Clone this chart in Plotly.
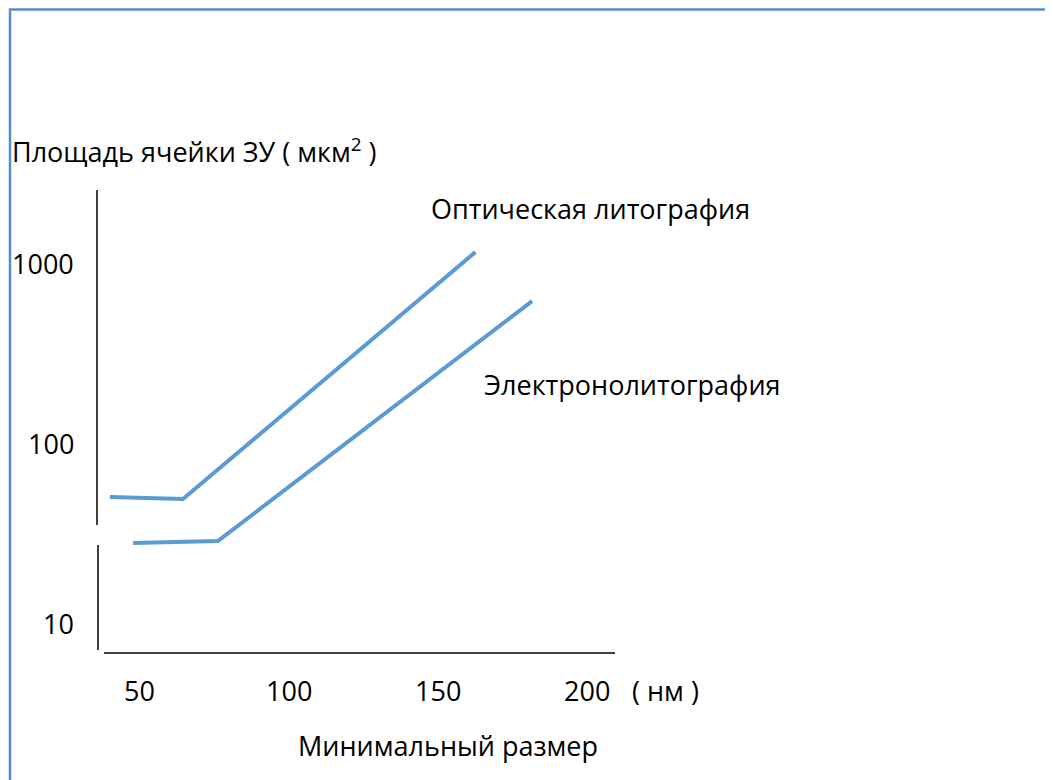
import plotly.graph_objects as go
import math

# Browser page has an 8px body margin; the figure is sized to fill the rest
OFF = 8
W, H = 1053 - OFF, 780 - OFF

# Data
optical_x = [40.0, 64.5, 162.5]
optical_y = [50.5, 49.3, 1160]
electron_x = [47.8, 76.2, 181.5]
electron_y = [28.1, 28.8, 620]

x_ticks = [50, 100, 150, 200]
y_ticks = [10, 100, 1000]

line_color = "rgb(91,155,213)"
font_family = "'Open Sans', Lato, sans-serif"
fs = 27

fig = go.Figure()
fig.add_trace(go.Scatter(x=optical_x, y=optical_y, mode="lines",
                         line=dict(color=line_color, width=4), name="Оптическая литография"))
fig.add_trace(go.Scatter(x=electron_x, y=electron_y, mode="lines",
                         line=dict(color=line_color, width=4), name="Электронолитография"))

def px(x):
    return (x - OFF) / W
def py(y):
    return 1 - (y - OFF) / H

shapes = [
    dict(type="rect", xref="paper", yref="paper", x0=px(10), y0=py(9.5), x1=px(1100), y1=py(830),
         line=dict(color="#5a8ad2", width=2.5)),
    dict(type="line", xref="paper", yref="paper", x0=px(97), x1=px(97), y0=py(190), y1=py(525),
         line=dict(color="black", width=1.5)),
    dict(type="line", xref="paper", yref="paper", x0=px(98), x1=px(98), y0=py(545), y1=py(650),
         line=dict(color="black", width=1.5)),
    dict(type="line", xref="paper", yref="paper", x0=px(104), x1=px(615), y0=py(653), y1=py(653),
         line=dict(color="black", width=1.5)),
]

ann = []
for t in x_ticks:
    ann.append(dict(x=t, y=py(690), xref="x", yref="paper", text=str(t), showarrow=False,
                    xanchor="center", yanchor="middle", font=dict(size=fs)))
for t in y_ticks:
    ann.append(dict(x=px(76), y=math.log10(t), xref="paper", yref="y", text=str(t), showarrow=False,
                    xanchor="right", yanchor="middle", font=dict(size=fs)))

ann += [
    dict(x=px(10), y=py(150), xref="paper", yref="paper", text="Площадь ячейки ЗУ ( мкм<sup>2</sup> )",
         showarrow=False, xanchor="left", yanchor="middle", font=dict(size=fs)),
    dict(x=px(429), y=py(208), xref="paper", yref="paper", text="Оптическая литография",
         showarrow=False, xanchor="left", yanchor="middle", font=dict(size=fs)),
    dict(x=px(482), y=py(385), xref="paper", yref="paper", text="Электронолитография",
         showarrow=False, xanchor="left", yanchor="middle", font=dict(size=fs)),
    dict(x=px(630), y=py(690), xref="paper", yref="paper", text="( нм )",
         showarrow=False, xanchor="left", yanchor="middle", font=dict(size=fs)),
    dict(x=px(448), y=py(745), xref="paper", yref="paper", text="Минимальный размер",
         showarrow=False, xanchor="center", yanchor="middle", font=dict(size=fs)),
]

# screen scale: x_px = -9.5 + 2.984*x ; y_px = 443.7 - 180*(log10(v)-2)
x0 = (OFF + 9.5) / 2.984
x1 = (1053 + 9.5) / 2.984
ylog_top = 2 + (443.7 - OFF) / 180
ylog_bot = 2 + (443.7 - 780) / 180

fig.update_layout(
    width=W, height=H,
    margin=dict(l=0, r=0, t=0, b=0),
    paper_bgcolor="white", plot_bgcolor="white",
    showlegend=False,
    font=dict(family=font_family, color="black", size=fs),
    xaxis=dict(range=[x0, x1], domain=[0, 1], visible=False, fixedrange=True),
    yaxis=dict(type="log", range=[ylog_bot, ylog_top], domain=[0, 1], visible=False, fixedrange=True),
    shapes=shapes,
    annotations=ann,
)

fig.write_html("out.html")
